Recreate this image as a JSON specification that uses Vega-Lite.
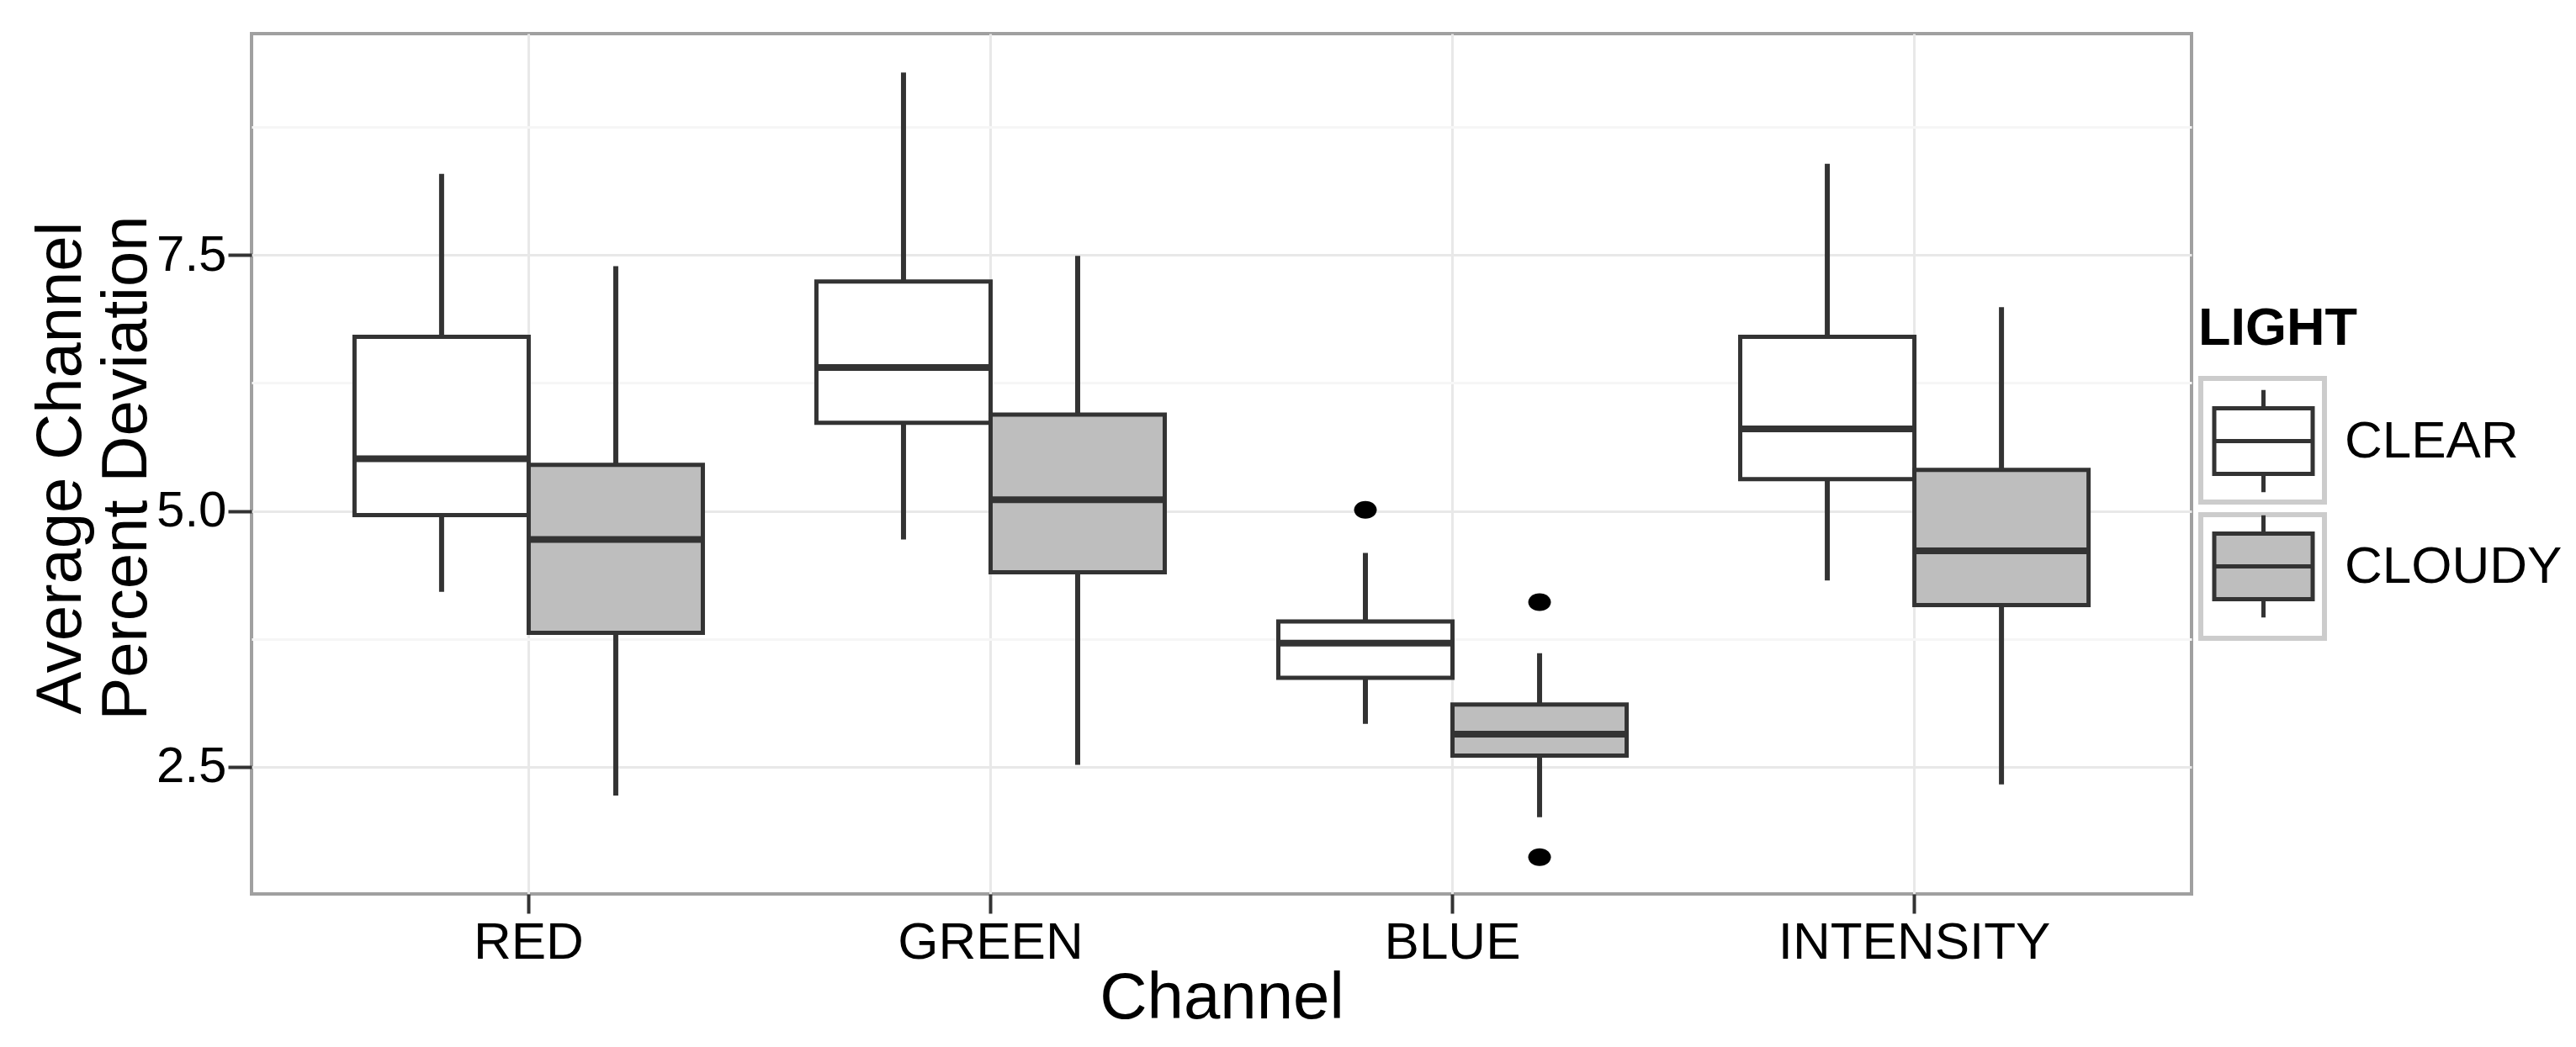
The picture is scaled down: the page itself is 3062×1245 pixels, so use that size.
{
  "$schema": "https://vega.github.io/schema/vega-lite/v6.json",
  "width": 2306,
  "height": 1023,
  "autosize": {"type": "none"},
  "padding": {"left": 299, "top": 40, "right": 457, "bottom": 182},
  "background": "white",
  "datasets": {
    "boxes": [
      {"channel": "RED", "light": "CLEAR", "lo": 4.21, "q1": 4.96, "median": 5.51, "q3": 6.70, "hi": 8.29},
      {"channel": "RED", "light": "CLOUDY", "lo": 2.22, "q1": 3.81, "median": 4.72, "q3": 5.45, "hi": 7.39},
      {"channel": "GREEN", "light": "CLEAR", "lo": 4.72, "q1": 5.86, "median": 6.40, "q3": 7.24, "hi": 9.28},
      {"channel": "GREEN", "light": "CLOUDY", "lo": 2.52, "q1": 4.40, "median": 5.11, "q3": 5.94, "hi": 7.49},
      {"channel": "BLUE", "light": "CLEAR", "lo": 2.92, "q1": 3.37, "median": 3.71, "q3": 3.92, "hi": 4.59},
      {"channel": "BLUE", "light": "CLOUDY", "lo": 2.01, "q1": 2.61, "median": 2.82, "q3": 3.11, "hi": 3.61},
      {"channel": "INTENSITY", "light": "CLEAR", "lo": 4.32, "q1": 5.31, "median": 5.80, "q3": 6.70, "hi": 8.39},
      {"channel": "INTENSITY", "light": "CLOUDY", "lo": 2.33, "q1": 4.08, "median": 4.61, "q3": 5.40, "hi": 6.99}
    ],
    "outliers": [
      {"channel": "BLUE", "light": "CLEAR", "value": 5.01},
      {"channel": "BLUE", "light": "CLOUDY", "value": 4.11},
      {"channel": "BLUE", "light": "CLOUDY", "value": 1.62}
    ]
  },
  "encoding": {
    "x": {
      "field": "channel", "type": "nominal", "title": "Channel",
      "scale": {"domain": ["RED", "GREEN", "BLUE", "INTENSITY"], "paddingInner": 0, "paddingOuter": 0.1},
      "axis": {
        "labelAngle": 0, "bandPosition": 0.5, "domain": false, "grid": true,
        "gridColor": "#e8e8e8", "gridWidth": 3,
        "tickSize": 23, "tickWidth": 4, "tickColor": "#333333",
        "labelFontSize": 62, "labelColor": "#000000", "labelPadding": 4, "labelLimit": 0,
        "titleFontSize": 78, "titleFontWeight": "normal", "titleColor": "#000000",
        "titleBaseline": "alphabetic", "titleY": 147
      }
    },
    "xOffset": {
      "field": "light", "type": "nominal",
      "scale": {"domain": ["CLEAR", "CLOUDY"], "paddingInner": 0, "paddingOuter": 0.326}
    }
  },
  "layer": [
    {
      "data": {"name": "boxes"},
      "mark": {"type": "point", "shape": "square", "filled": false, "color": "#cccccc", "strokeWidth": 6, "opacity": 0},
      "encoding": {
        "y": {
          "field": "median", "type": "quantitative",
          "title": ["Average Channel", "Percent Deviation"],
          "scale": {"domain": [1.26, 9.66], "nice": false, "zero": false}
        },
        "shape": {
          "field": "light", "type": "nominal", "title": null,
          "scale": {"range": ["square", "square"]},
          "legend": {
            "orient": "none", "legendX": 2314, "legendY": 407, "zindex": 1,
            "symbolSize": 21609, "symbolOpacity": 1, "symbolStrokeWidth": 6,
            "symbolStrokeColor": "#cccccc", "symbolFillColor": "transparent",
            "rowPadding": -32, "symbolLimit": 0,
            "labelExpr": "''", "labelFontSize": 10, "labelOffset": 19
          }
        }
      }
    },
    {
      "data": {"name": "boxes"},
      "mark": {"type": "rule", "color": "#333333", "strokeWidth": 6},
      "encoding": {
        "y": {
          "field": "lo", "type": "quantitative",
          "title": ["Average Channel", "Percent Deviation"],
          "scale": {"domain": [1.26, 9.66], "nice": false, "zero": false},
          "axis": {
            "values": [2.5, 3.75, 5, 6.25, 7.5, 8.75],
            "labelExpr": "datum.value % 2.5 === 0 ? format(datum.value, '.1f') : ''",
            "gridColor": {"condition": {"test": "datum.value % 2.5 === 0", "value": "#e8e8e8"}, "value": "#f6f6f6"},
            "tickOpacity": {"condition": {"test": "datum.value % 2.5 === 0", "value": 1}, "value": 0},
            "gridWidth": 3, "domain": false,
            "tickSize": 28, "tickWidth": 4, "tickColor": "#333333",
            "labelFontSize": 60, "labelColor": "#000000", "labelPadding": 2,
            "titleFontSize": 76, "titleFontWeight": "normal", "titleColor": "#000000",
            "titleAngle": -90, "titleX": -204, "titleY": 516, "titleAlign": "center",
            "titleBaseline": "alphabetic", "titleLineHeight": 78, "titleLimit": 0
          }
        },
        "y2": {"field": "hi"}
      }
    },
    {
      "data": {"name": "boxes"},
      "mark": {"type": "bar", "stroke": "#333333", "strokeWidth": 5, "opacity": 1},
      "encoding": {
        "y": {
          "field": "q1", "type": "quantitative",
          "title": ["Average Channel", "Percent Deviation"],
          "scale": {"domain": [1.26, 9.66], "nice": false, "zero": false}
        },
        "y2": {"field": "q3"},
        "fill": {
          "field": "light", "type": "nominal", "title": "LIGHT",
          "scale": {"domain": ["CLEAR", "CLOUDY"], "range": ["#ffffff", "#bebebe"]},
          "legend": {
            "orient": "none", "legendX": 2314, "legendY": 320, "zindex": 2,
            "symbolType": "M-0.78,-0.52H0.78V0.52H-0.78Z M-0.78,0H0.78 M0,-0.52V-0.81 M0,0.52V0.81",
            "symbolSize": 22500, "symbolStrokeColor": "#333333", "symbolStrokeWidth": 5, "symbolOpacity": 1,
            "labelFontSize": 62, "labelColor": "#000000", "labelOffset": 19, "labelLimit": 0,
            "titleFontSize": 63, "titleFontWeight": "bold", "titleColor": "#000000", "titlePadding": 24, "titleLimit": 0,
            "rowPadding": 0
          }
        }
      }
    },
    {
      "data": {"name": "boxes"},
      "mark": {"type": "tick", "color": "#333333", "thickness": 8, "size": 207, "opacity": 1},
      "encoding": {
        "y": {
          "field": "median", "type": "quantitative",
          "title": ["Average Channel", "Percent Deviation"],
          "scale": {"domain": [1.26, 9.66], "nice": false, "zero": false}
        }
      }
    },
    {
      "data": {"name": "outliers"},
      "mark": {"type": "point", "filled": true, "color": "#000000", "opacity": 1, "size": 729,
               "shape": "M-1,0A1,0.78 0 1,0 1,0A1,0.78 0 1,0 -1,0Z"},
      "encoding": {
        "y": {
          "field": "value", "type": "quantitative",
          "title": ["Average Channel", "Percent Deviation"],
          "scale": {"domain": [1.26, 9.66], "nice": false, "zero": false}
        }
      }
    }
  ],
  "config": {
    "font": "Liberation Sans",
    "view": {"stroke": "#a0a0a0", "strokeWidth": 4}
  }
}
